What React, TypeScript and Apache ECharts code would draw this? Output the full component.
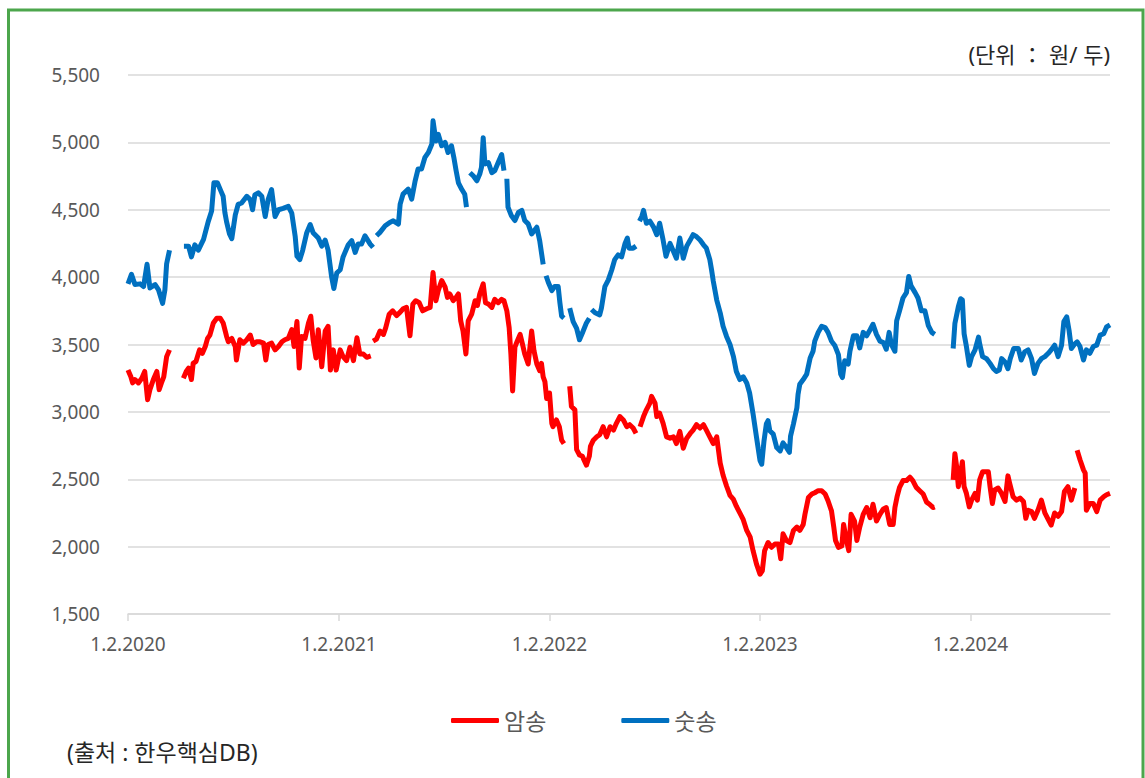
import React, { useEffect, useRef } from 'react';
import * as echarts from 'echarts';

// Daily category axis: day 0 = 2020-01-02, last day = 2024-08-31
const START_UTC = Date.UTC(2020, 0, 2);
const DAY_COUNT = 1704;
const tickLabels = ['1.2.2020', '1.2.2021', '1.2.2022', '1.2.2023', '1.2.2024'];

const seriesNames = ['암송', '숫송'];
const seriesColors = ['#FF0000', '#0070C0'];

const yMin = 1500;
const yMax = 5500;
const yStep = 500;

const unitText = '(단위 ： 원/ 두)';
const sourceText = '(출처 : 한우핵심DB)';

// [day offset from 2020-01-02, price] ; null = no data (gap)
const cowPrices: [number, number | null][] = [
  [0, 3310], [5, 3260], [8, 3215], [12, 3240], [18, 3215], [24, 3250], [29, 3300], [34, 3090], [38, 3165], [44, 3240],
  [50, 3300], [54, 3165], [58, 3215], [62, 3260], [67, 3410], [72, 3460], [80, null], [96, 3250], [101, 3300], [105, 3325],
  [110, 3240], [113, 3360], [118, 3375], [124, 3460], [129, 3435], [134, 3485], [138, 3545], [142, 3570], [148, 3660], [154, 3695],
  [160, 3695], [165, 3660], [171, 3560], [174, 3520], [180, 3545], [186, 3485], [188, 3385], [194, 3535], [200, 3510], [206, 3535],
  [212, 3570], [217, 3500], [223, 3520], [229, 3520], [235, 3510], [239, 3385], [243, 3500], [249, 3510], [255, 3460], [261, 3485],
  [267, 3520], [272, 3535], [278, 3545], [284, 3610], [288, 3485], [293, 3670], [297, 3325], [301, 3560], [307, 3545], [313, 3660],
  [317, 3710], [321, 3535], [326, 3400], [330, 3610], [336, 3335], [342, 3600], [347, 3635], [351, 3310], [356, 3460], [361, 3310],
  [368, 3460], [373, 3410], [379, 3380], [385, 3480], [391, 3380], [397, 3550], [402, 3430], [408, 3430], [414, 3405], [421, 3415],
  [423, null], [425, 3525], [431, 3540], [437, 3600], [443, 3575], [447, 3625], [453, 3725], [459, 3750], [466, 3715], [472, 3740],
  [477, 3765], [483, 3775], [489, 3565], [494, 3800], [499, 3825], [505, 3810], [511, 3750], [518, 3765], [524, 3775], [529, 4035],
  [534, 3825], [538, 3900], [544, 3975], [550, 3925], [554, 3850], [558, 3875], [564, 3825], [569, 3850], [573, 3875], [577, 3675],
  [581, 3600], [586, 3430], [590, 3675], [596, 3725], [602, 3825], [606, 3790], [610, 3875], [616, 3950], [620, 3810], [625, 3800],
  [631, 3775], [636, 3835], [642, 3810], [648, 3835], [652, 3825], [657, 3750], [661, 3625], [664, 3430], [667, 3155], [671, 3480],
  [675, 3525], [680, 3575], [684, 3505], [688, 3430], [694, 3355], [700, 3600], [704, 3455], [709, 3355], [714, 3305], [717, 3360],
  [720, 3260], [723, 3225], [726, 3100], [731, 3140], [735, 2915], [737, 2890], [743, 2940], [748, 2890], [752, 2790], [756, 2765],
  [760, null], [766, 3190], [769, 3040], [775, 3015], [778, 2720], [783, 2680], [788, 2670], [795, 2605], [800, 2670], [802, 2745],
  [807, 2790], [813, 2815], [818, 2830], [824, 2890], [830, 2815], [836, 2890], [842, 2865], [847, 2915], [853, 2965], [859, 2940],
  [865, 2890], [870, 2905], [876, 2880], [881, 2840], [884, null], [888, 2890], [894, 2965], [899, 3015], [905, 3065], [908, 3115],
  [914, 3065], [917, 2965], [922, 2990], [928, 2915], [934, 2815], [940, 2805], [946, 2815], [951, 2765], [957, 2855], [963, 2730],
  [969, 2805], [975, 2840], [980, 2865], [986, 2905], [992, 2880], [998, 2905], [1003, 2865], [1009, 2815], [1015, 2765], [1021, 2815],
  [1027, 2620], [1032, 2530], [1038, 2450], [1044, 2380], [1050, 2350], [1055, 2300], [1061, 2250], [1067, 2200], [1073, 2120], [1079, 2070],
  [1084, 1970], [1090, 1870], [1096, 1795], [1100, 1820], [1104, 1970], [1110, 2030], [1116, 1995], [1122, 2020], [1128, 2020], [1132, 1910],
  [1136, 2095], [1142, 2045], [1148, 2030], [1154, 2120], [1160, 2145], [1165, 2120], [1171, 2165], [1174, 2240], [1180, 2365], [1186, 2390],
  [1191, 2400], [1197, 2415], [1203, 2415], [1209, 2390], [1214, 2340], [1220, 2265], [1224, 2145], [1227, 2045], [1232, 1995], [1238, 2005],
  [1241, 2165], [1246, 2045], [1250, 1970], [1254, 2240], [1260, 2190], [1264, 2045], [1269, 2145], [1275, 2240], [1281, 2290], [1287, 2215],
  [1292, 2315], [1298, 2190], [1304, 2240], [1310, 2280], [1315, 2290], [1321, 2165], [1327, 2165], [1330, 2290], [1334, 2375], [1338, 2440],
  [1344, 2490], [1350, 2490], [1356, 2515], [1361, 2490], [1367, 2440], [1373, 2415], [1379, 2390], [1385, 2330], [1390, 2315], [1396, 2290],
  [1399, 2295], [1410, null], [1431, 2495], [1434, 2690], [1437, 2595], [1440, 2445], [1444, 2545], [1447, 2630], [1450, 2445], [1454, 2395],
  [1459, 2295], [1463, 2345], [1469, 2395], [1473, 2345], [1477, 2495], [1482, 2555], [1486, 2555], [1492, 2555], [1495, 2445], [1499, 2320],
  [1503, 2420], [1509, 2435], [1515, 2395], [1521, 2335], [1526, 2525], [1529, 2470], [1535, 2370], [1541, 2345], [1547, 2360], [1553, 2335],
  [1557, 2210], [1561, 2270], [1567, 2260], [1572, 2210], [1578, 2270], [1584, 2345], [1590, 2250], [1596, 2200], [1601, 2160], [1607, 2250],
  [1613, 2225], [1619, 2260], [1624, 2410], [1630, 2445], [1636, 2345], [1642, 2435], [1644, null], [1646, 2715], [1651, 2645], [1657, 2570],
  [1660, 2545], [1662, 2270], [1668, 2320], [1674, 2320], [1680, 2260], [1686, 2345], [1692, 2370], [1697, 2385], [1703, 2395],
];

const bullPrices: [number, number | null][] = [
  [0, 3950], [6, 4020], [12, 3945], [21, 3950], [27, 3930], [33, 4095], [38, 3920], [47, 3945], [53, 3905], [60, 3805],
  [64, 3905], [67, 4100], [72, 4200], [76, null], [97, 4230], [105, 4230], [110, 4150], [116, 4240], [122, 4200], [131, 4280],
  [139, 4410], [145, 4490], [149, 4700], [155, 4700], [161, 4640], [165, 4600], [168, 4480], [171, 4410], [176, 4320], [180, 4285],
  [186, 4460], [191, 4540], [197, 4550], [206, 4600], [212, 4575], [216, 4500], [220, 4610], [226, 4625], [232, 4600], [238, 4450],
  [243, 4575], [249, 4650], [255, 4450], [261, 4500], [269, 4510], [278, 4525], [284, 4475], [290, 4300], [293, 4155], [298, 4130],
  [303, 4200], [310, 4330], [316, 4390], [321, 4330], [330, 4290], [336, 4230], [342, 4275], [347, 4200], [353, 4005], [357, 3915],
  [362, 4030], [368, 4055], [373, 4150], [382, 4240], [388, 4270], [394, 4183], [399, 4245], [405, 4245], [411, 4307], [420, 4245],
  [425, 4220], [427, null], [431, 4307], [437, 4332], [446, 4381], [454, 4406], [460, 4418], [469, 4394], [472, 4542], [477, 4616],
  [486, 4653], [492, 4579], [498, 4715], [503, 4802], [509, 4802], [515, 4889], [521, 4926], [527, 4988], [529, 5160], [534, 5010],
  [538, 5060], [544, 4975], [550, 5000], [555, 4925], [561, 4975], [565, 4890], [569, 4790], [573, 4700], [579, 4650], [584, 4615],
  [587, 4520], [589, null], [593, 4775], [599, 4750], [605, 4715], [610, 4765], [613, 4815], [616, 5035], [619, 4840], [625, 4850],
  [631, 4775], [636, 4790], [642, 4850], [648, 4910], [652, 4790], [654, null], [657, 4730], [659, 4520], [665, 4455], [671, 4420],
  [677, 4480], [683, 4495], [688, 4420], [694, 4395], [700, 4320], [709, 4370], [714, 4270], [720, 4095], [722, null], [725, 4010],
  [729, 3960], [735, 3900], [740, 3930], [746, 3930], [749, 3810], [752, 3710], [756, 3695], [760, null], [766, 3770], [772, 3670],
  [778, 3620], [783, 3535], [788, 3585], [795, 3660], [800, 3695], [802, null], [804, 3760], [810, 3735], [818, 3720], [821, 3770],
  [827, 3930], [833, 3980], [839, 4055], [844, 4130], [850, 4165], [856, 4150], [862, 4250], [866, 4290], [869, 4215], [876, 4215],
  [881, 4230], [884, null], [887, 4415], [891, 4450], [894, 4495], [899, 4400], [905, 4415], [911, 4375], [917, 4315], [922, 4400],
  [928, 4275], [933, 4155], [940, 4250], [946, 4190], [951, 4140], [957, 4290], [963, 4140], [969, 4230], [975, 4275], [980, 4315],
  [986, 4300], [992, 4275], [998, 4240], [1003, 4215], [1009, 4130], [1012, 4055], [1015, 3970], [1021, 3830], [1027, 3735], [1032, 3635],
  [1038, 3560], [1044, 3500], [1050, 3410], [1055, 3300], [1061, 3240], [1067, 3260], [1073, 3215], [1078, 3140], [1084, 2985], [1090, 2810],
  [1096, 2640], [1099, 2612], [1103, 2785], [1107, 2910], [1110, 2935], [1113, 2860], [1119, 2835], [1125, 2735], [1131, 2710], [1136, 2770],
  [1142, 2735], [1147, 2700], [1149, 2820], [1154, 2910], [1160, 3030], [1162, 3130], [1165, 3205], [1171, 3240], [1177, 3280], [1183, 3400],
  [1188, 3450], [1191, 3525], [1197, 3590], [1203, 3635], [1209, 3625], [1214, 3590], [1220, 3525], [1226, 3490], [1232, 3425], [1236, 3280],
  [1239, 3255], [1243, 3380], [1249, 3355], [1252, 3450], [1258, 3565], [1264, 3565], [1269, 3475], [1275, 3590], [1281, 3565], [1287, 3610],
  [1292, 3650], [1298, 3575], [1304, 3525], [1310, 3515], [1315, 3465], [1320, 3590], [1324, 3500], [1330, 3450], [1333, 3675], [1338, 3750],
  [1344, 3845], [1350, 3885], [1354, 4005], [1358, 3935], [1365, 3885], [1370, 3845], [1376, 3750], [1382, 3750], [1388, 3640], [1394, 3590],
  [1399, 3575], [1410, null], [1431, 3470], [1434, 3655], [1440, 3780], [1444, 3840], [1447, 3830], [1450, 3580], [1454, 3485], [1459, 3345],
  [1463, 3410], [1469, 3460], [1475, 3555], [1477, 3505], [1482, 3410], [1489, 3395], [1495, 3360], [1501, 3320], [1506, 3300], [1511, 3310],
  [1515, 3395], [1521, 3370], [1526, 3320], [1530, 3395], [1536, 3470], [1544, 3470], [1549, 3385], [1555, 3445], [1561, 3460], [1567, 3395],
  [1572, 3285], [1578, 3360], [1584, 3395], [1590, 3410], [1596, 3435], [1601, 3460], [1607, 3495], [1613, 3410], [1619, 3495], [1623, 3670],
  [1628, 3705], [1632, 3605], [1636, 3470], [1642, 3505], [1646, 3520], [1651, 3485], [1657, 3385], [1662, 3460], [1668, 3435], [1674, 3485],
  [1680, 3495], [1686, 3570], [1692, 3580], [1697, 3630], [1703, 3645],
];

const FONT = "'Noto Sans', 'Noto Sans CJK KR', sans-serif";

function buildCategories(): string[] {
  const out: string[] = [];
  for (let i = 0; i < DAY_COUNT; i++) {
    const d = new Date(START_UTC + i * 86400000);
    out.push(`${d.getUTCMonth() + 1}.${d.getUTCDate()}.${d.getUTCFullYear()}`);
  }
  return out;
}

export default function App() {
  const ref = useRef<HTMLDivElement>(null);

  useEffect(() => {
    if (!ref.current) return;
    const chart = echarts.init(ref.current, undefined, { renderer: 'svg' });
    const categories = buildCategories();
    const showTick = (index: number) => tickLabels.includes(categories[index]);

    chart.setOption({
      animation: false,
      backgroundColor: '#ffffff',
      grid: { left: 128, right: 35, top: 75, bottom: 164, containLabel: false },
      legend: {
        data: seriesNames,
        left: 446,
        top: 704,
        icon: 'roundRect',
        itemWidth: 48,
        itemHeight: 5,
        itemGap: 75,
        textStyle: { color: '#595959', fontSize: 23, fontFamily: FONT },
      },
      xAxis: {
        type: 'category',
        data: categories,
        boundaryGap: false,
        axisLine: { show: true, lineStyle: { color: '#d9d9d9', width: 1.5 } },
        axisTick: { show: true, interval: (i: number) => showTick(i), length: 7, lineStyle: { color: '#d9d9d9', width: 1.5 } },
        axisLabel: {
          interval: (i: number) => showTick(i),
          color: '#595959',
          fontSize: 19,
          fontFamily: FONT,
          margin: 20,
        },
        splitLine: { show: false },
      },
      yAxis: {
        type: 'value',
        min: yMin,
        max: yMax,
        interval: yStep,
        axisLine: { show: false },
        axisTick: { show: false },
        axisLabel: {
          color: '#595959',
          fontSize: 19,
          fontFamily: FONT,
          margin: 28,
          formatter: (v: number) => v.toLocaleString('en-US'),
        },
        splitLine: { lineStyle: { color: '#d9d9d9', width: 1.5 } },
      },
      series: [
        {
          name: seriesNames[0],
          type: 'line',
          data: cowPrices,
          showSymbol: false,
          symbol: 'none',
          connectNulls: false,
          itemStyle: { color: seriesColors[0] },
          lineStyle: { color: seriesColors[0], width: 5, join: 'round' },
          z: 3,
        },
        {
          name: seriesNames[1],
          type: 'line',
          data: bullPrices,
          showSymbol: false,
          symbol: 'none',
          connectNulls: false,
          itemStyle: { color: seriesColors[1] },
          lineStyle: { color: seriesColors[1], width: 5, join: 'round' },
          z: 2,
        },
      ],
      graphic: [
        {
          type: 'rect',
          shape: { x: 8.5, y: 10, width: 1134.5, height: 820 },
          style: { fill: 'none', stroke: '#4CA64C', lineWidth: 3 },
          silent: true,
        },
        {
          type: 'text',
          x: 1110,
          y: 54,
          style: {
            text: unitText,
            fill: '#262626',
            font: `22px ${FONT}`,
            textAlign: 'right',
            textVerticalAlign: 'middle',
          },
        },
        {
          type: 'text',
          x: 67,
          y: 752,
          style: {
            text: sourceText,
            fill: '#262626',
            font: `23px ${FONT}`,
            textAlign: 'left',
            textVerticalAlign: 'middle',
          },
        },
      ],
    });

    return () => chart.dispose();
  }, []);

  return (
    <div
      ref={ref}
      style={{ position: 'absolute', left: 0, top: 0, width: 1145, height: 778 }}
    />
  );
}
